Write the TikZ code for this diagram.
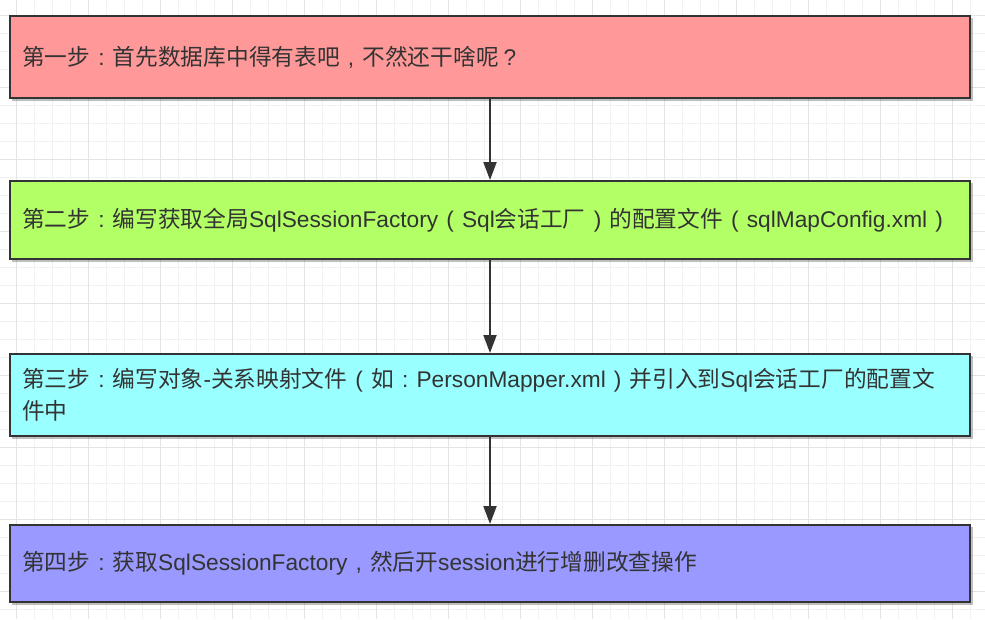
\documentclass[tikz,border=0pt]{standalone}
\usepackage{fontspec}
\usetikzlibrary{arrows.meta}
\newfontfamily\cjkfont{Noto Sans CJK SC}
\newfontfamily\latfont{Liberation Sans}
\newcommand\ltn[1]{{\latfont #1}}
\newcommand\pcolon{\makebox[1em]{\latfont :}}
\newcommand\pcomma{\makebox[1em]{\latfont ,}}
\newcommand\pques{\makebox[1em]{\latfont ?}}
\newcommand\plpar{\makebox[1.05em]{\latfont (}}
\newcommand\prpar{\makebox[1.05em]{\latfont )}}
\definecolor{gridminor}{HTML}{F1F1F1}
\definecolor{gridmajor}{HTML}{E4E4E4}
\definecolor{edgec}{HTML}{333333}
\definecolor{txtc}{HTML}{333333}
\definecolor{cA}{HTML}{FF9999}
\definecolor{cB}{HTML}{B3FF66}
\definecolor{cC}{HTML}{99FFFF}
\definecolor{cD}{HTML}{9999FF}
\tikzset{
  stepbox/.style={draw=edgec, line width=2pt, rectangle, minimum width=960pt,
    text width=936pt, align=left, inner xsep=12pt, inner ysep=0pt,
    font=\cjkfont\fontsize{22.7pt}{32.5pt}\selectfont, text=txtc,
    anchor=center},
  shadowbox/.style={fill=black, opacity=0.25, draw=none},
  flow/.style={draw=edgec, line width=2pt, -{Triangle[width=13pt,length=18pt]}}
}
\begin{document}
\begin{tikzpicture}[x=1pt,y=-1pt]
\useasboundingbox (0,0) rectangle (985,619);
\fill[white] (0,0) rectangle (985,619);
% grid
\foreach \gx in {16,34,...,985} {\draw[gridminor, line width=1pt] (\gx,0) -- (\gx,619);}
\foreach \gy in {15,33,...,619} {\draw[gridminor, line width=1pt] (0,\gy) -- (985,\gy);}
\foreach \gx in {16,88,...,985} {\draw[gridmajor, line width=1pt] (\gx,0) -- (\gx,619);}
\foreach \gy in {15,87,...,619} {\draw[gridmajor, line width=1pt] (0,\gy) -- (985,\gy);}
% shadows
\fill[shadowbox] (12,18) rectangle (973,101);
\fill[shadowbox] (12,183) rectangle (973,262);
\fill[shadowbox] (12,356) rectangle (973,439);
\fill[shadowbox] (12,527) rectangle (973,605);
% boxes
\node[stepbox, fill=cA, minimum height=82pt] (s1) at (490,57) {第一步\pcolon 首先数据库中得有表吧\pcomma 不然还干啥呢\pques};
\node[stepbox, fill=cB, minimum height=78pt] (s2) at (490,220) {第二步\pcolon 编写获取全局\ltn{SqlSessionFactory}\plpar\ltn{Sql}会话工厂\prpar 的配置文件\plpar\ltn{sqlMapConfig.xml}\prpar};
\node[stepbox, fill=cC, minimum height=82pt] (s3) at (490,395) {第三步\pcolon 编写对象\ltn{-}关系映射文件\plpar 如\pcolon\ltn{PersonMapper.xml}\prpar 并引入到\ltn{Sql}会话工厂的配置文\\件中};
\node[stepbox, fill=cD, minimum height=77pt] (s4) at (490,563.5) {第四步\pcolon 获取\ltn{SqlSessionFactory}\pcomma 然后开\ltn{session}进行增删改查操作};
% arrows
\draw[flow] (s1.south) -- (s2.north);
\draw[flow] (s2.south) -- (s3.north);
\draw[flow] (s3.south) -- (s4.north);
\end{tikzpicture}
\end{document}
